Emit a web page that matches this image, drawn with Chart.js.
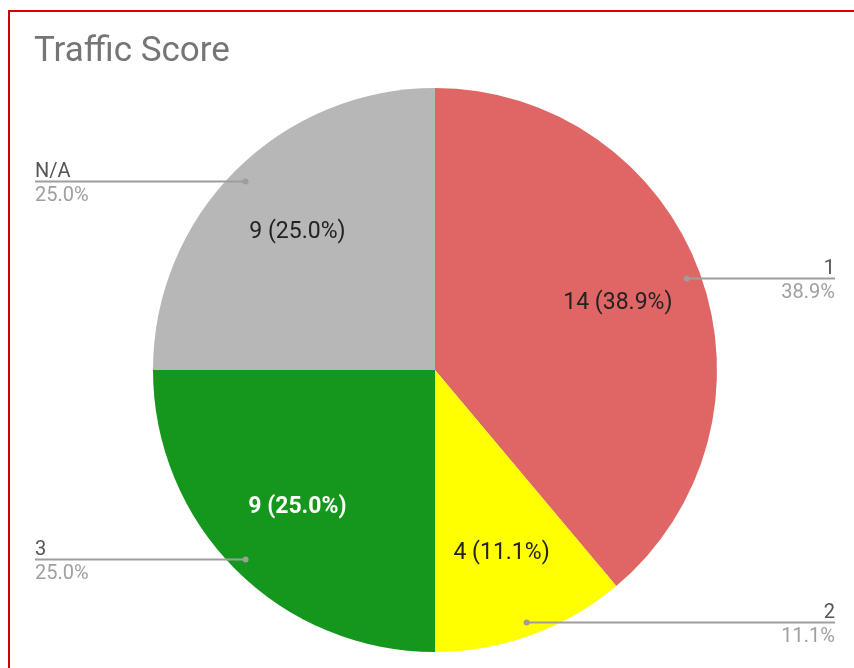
<!DOCTYPE html>
<html>
<head>
<meta charset="utf-8">
<script src="https://cdn.jsdelivr.net/npm/chart.js@4/dist/chart.umd.min.js"></script>
<style>
  html, body { margin: 0; padding: 0; background: #fff; }
  #trafficPie { display: block; }
</style>
</head>
<body>
<canvas id="trafficPie" width="854" height="668"></canvas>
<script>
const title = "Traffic Score";
const scores = ["1", "2", "3", "N/A"];
const counts = [14, 4, 9, 9];

document.addEventListener("DOMContentLoaded", () => {
  const canvas = document.getElementById("trafficPie");
  const ctx = canvas.getContext("2d");
  const total = counts.reduce((a, b) => a + b, 0);
  const pct = (v) => ((v / total) * 100).toFixed(1) + "%";

  // Frame, title, slice labels and leader lines
  const decorations = {
    id: "decorations",
    beforeDraw(chart) {
      const c = chart.ctx;
      c.save();
      c.fillStyle = "#fff";
      c.fillRect(0, 0, chart.width, chart.height);
      c.strokeStyle = "#d40000";
      c.lineWidth = 2;
      c.beginPath();
      c.moveTo(9, chart.height);
      c.lineTo(9, 11);
      c.lineTo(chart.width, 11);
      c.stroke();
      c.fillStyle = "#757575";
      c.font = "35px Roboto";
      c.textBaseline = "alphabetic";
      c.fillText(title, 34, 61);
      c.restore();
    },
    afterDatasetsDraw(chart) {
      const c = chart.ctx;
      const arcs = chart.getDatasetMeta(0).data;
      c.save();
      arcs.forEach((arc, i) => {
        const mid = (arc.startAngle + arc.endAngle) / 2;
        const r = arc.outerRadius;
        const cos = Math.cos(mid), sin = Math.sin(mid);

        // inside label
        const ix = arc.x + cos * r * 0.69;
        const iy = arc.y + sin * r * 0.69;
        const green = i === 2;
        c.font = (green ? "bold " : "") + "23px Roboto";
        c.fillStyle = green ? "#ffffff" : "#222222";
        c.textAlign = "center";
        c.textBaseline = "middle";
        c.fillText(counts[i] + " (" + pct(counts[i]) + ")", ix, iy);

        // leader line
        const dx = arc.x + cos * r * 0.95;
        const dy = Math.round(arc.y + sin * r * 0.95) + 0.5;
        const right = cos >= 0;
        const ex = right ? 835 : 35;
        c.strokeStyle = "#9e9e9e";
        c.lineWidth = 2;
        c.beginPath();
        c.moveTo(dx, dy);
        c.lineTo(ex, dy);
        c.stroke();
        c.fillStyle = "#9e9e9e";
        c.beginPath();
        c.arc(dx, dy, 3, 0, Math.PI * 2);
        c.fill();

        c.textAlign = right ? "right" : "left";
        c.font = "20px Roboto";
        c.fillStyle = "#555555";
        c.textBaseline = "alphabetic";
        c.fillText(scores[i], ex, dy - 5);
        c.fillStyle = "#a0a0a0";
        c.textBaseline = "top";
        c.fillText(pct(counts[i]), ex, dy + 4);
      });
      c.restore();
    },
  };

  new Chart(ctx, {
    type: "pie",
    data: {
      labels: scores,
      datasets: [
        {
          data: counts,
          backgroundColor: ["#e06666", "#ffff00", "#15961c", "#b7b7b7"],
          borderWidth: 0,
        },
      ],
    },
    options: {
      responsive: false,
      animation: false,
      layout: { padding: { top: 88, bottom: 16, left: 153, right: 137 } },
      plugins: {
        legend: { display: false },
        tooltip: { enabled: false },
        title: { display: false },
      },
    },
    plugins: [decorations],
  });
});
</script>
</body>
</html>
